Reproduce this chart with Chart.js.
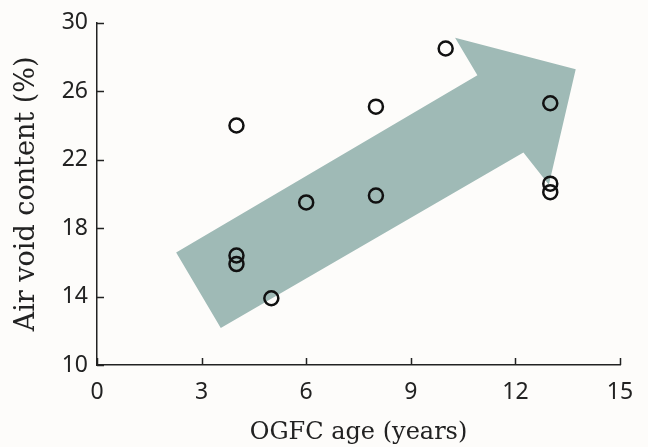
<!DOCTYPE html>
<html>
<head>
<meta charset="utf-8">
<script src="https://cdn.jsdelivr.net/npm/chart.js@4"></script>
<style>
  html, body { margin: 0; padding: 0; background: #fdfcfa; }
  #wrap { width: 648px; height: 447px; }
</style>
</head>
<body>
<div id="wrap"><canvas id="chart" width="648" height="447"></canvas></div>
<script>
// 数据点：OGFC 路龄 vs 空隙率
var ageYears = [4, 4, 4, 5, 6, 8, 8, 10, 13, 13, 13];
var airVoid = [24.0, 16.4, 15.9, 13.9, 19.5, 19.9, 25.1, 28.5, 25.3, 20.6, 20.1];

// 背景趋势箭头（数据坐标下的多边形顶点）
var arrowX = [2.27, 3.55, 12.23, 12.96, 13.73, 10.27, 10.91, 2.27];
var arrowY = [16.57, 12.16, 22.42, 20.53, 27.29, 29.13, 26.94, 16.57];

var xTicks = [0, 3, 6, 9, 12, 15];
var yTicks = [10, 14, 18, 22, 26, 30];

function toPoints(xs, ys) {
  var out = [];
  for (var i = 0; i < xs.length; i++) out.push({ x: xs[i], y: ys[i] });
  return out;
}

// 刻度线朝内
var innerTicks = {
  id: "innerTicks",
  afterDraw: function (chart) {
    var ctx = chart.ctx;
    var xs = chart.scales.x, ys = chart.scales.y;
    ctx.save();
    ctx.strokeStyle = "#222";
    ctx.lineWidth = 1.5;
    ctx.beginPath();
    xTicks.forEach(function (v) {
      var px = Math.round(xs.getPixelForValue(v)) + 0.5;
      ctx.moveTo(px, ys.bottom);
      ctx.lineTo(px, ys.bottom - 7);
    });
    yTicks.forEach(function (v) {
      var py = Math.round(ys.getPixelForValue(v)) + 0.5;
      ctx.moveTo(xs.left, py);
      ctx.lineTo(xs.left + 7, py);
    });
    ctx.stroke();
    ctx.restore();
  },
};

var ctx = document.getElementById("chart").getContext("2d");
new Chart(ctx, {
  type: "scatter",
  data: {
    datasets: [
      {
        label: "arrow",
        data: toPoints(arrowX, arrowY),
        showLine: true,
        fill: "shape",
        backgroundColor: "#9fbab6",
        borderColor: "#9fbab6",
        borderWidth: 0,
        pointRadius: 0,
        order: 2,
      },
      {
        label: "Air void",
        data: toPoints(ageYears, airVoid),
        pointStyle: "circle",
        pointRadius: 7,
        pointBorderWidth: 2.5,
        backgroundColor: "rgba(0,0,0,0)",
        borderColor: "#111",
        order: 1,
      },
    ],
  },
  options: {
    responsive: false,
    animation: false,
    layout: { padding: { top: 20, right: 28, left: 0, bottom: 0 } },
    plugins: {
      legend: { display: false },
      tooltip: { enabled: false },
    },
    scales: {
      x: {
        type: "linear",
        min: 0,
        max: 15,
        afterFit: function (s) { s.height = 82; },
        afterBuildTicks: function (s) { s.ticks = xTicks.map(function (v) { return { value: v }; }); },
        grid: { display: false, drawTicks: false },
        border: { display: true, color: "#222", width: 1.5 },
        ticks: { padding: 14, color: "#222", font: { family: "Noto Sans", size: 23 } },
        title: {
          display: true,
          text: "OGFC age (years)",
          color: "#222",
          font: { family: "DejaVu Serif", size: 24 },
          padding: { top: 0, bottom: 0 },
        },
      },
      y: {
        type: "linear",
        min: 10,
        max: 30,
        afterFit: function (s) { s.width = 97; },
        afterBuildTicks: function (s) { s.ticks = yTicks.map(function (v) { return { value: v }; }); },
        grid: { display: false, drawTicks: false },
        border: { display: true, color: "#222", width: 1.5 },
        ticks: { padding: 9, color: "#222", font: { family: "Noto Sans", size: 23 } },
        title: {
          display: true,
          text: "Air void content (%)",
          color: "#222",
          font: { family: "DejaVu Serif", size: 27 },
          padding: { top: 11, bottom: 0 },
        },
      },
    },
  },
  plugins: [innerTicks],
});
</script>
</body>
</html>
